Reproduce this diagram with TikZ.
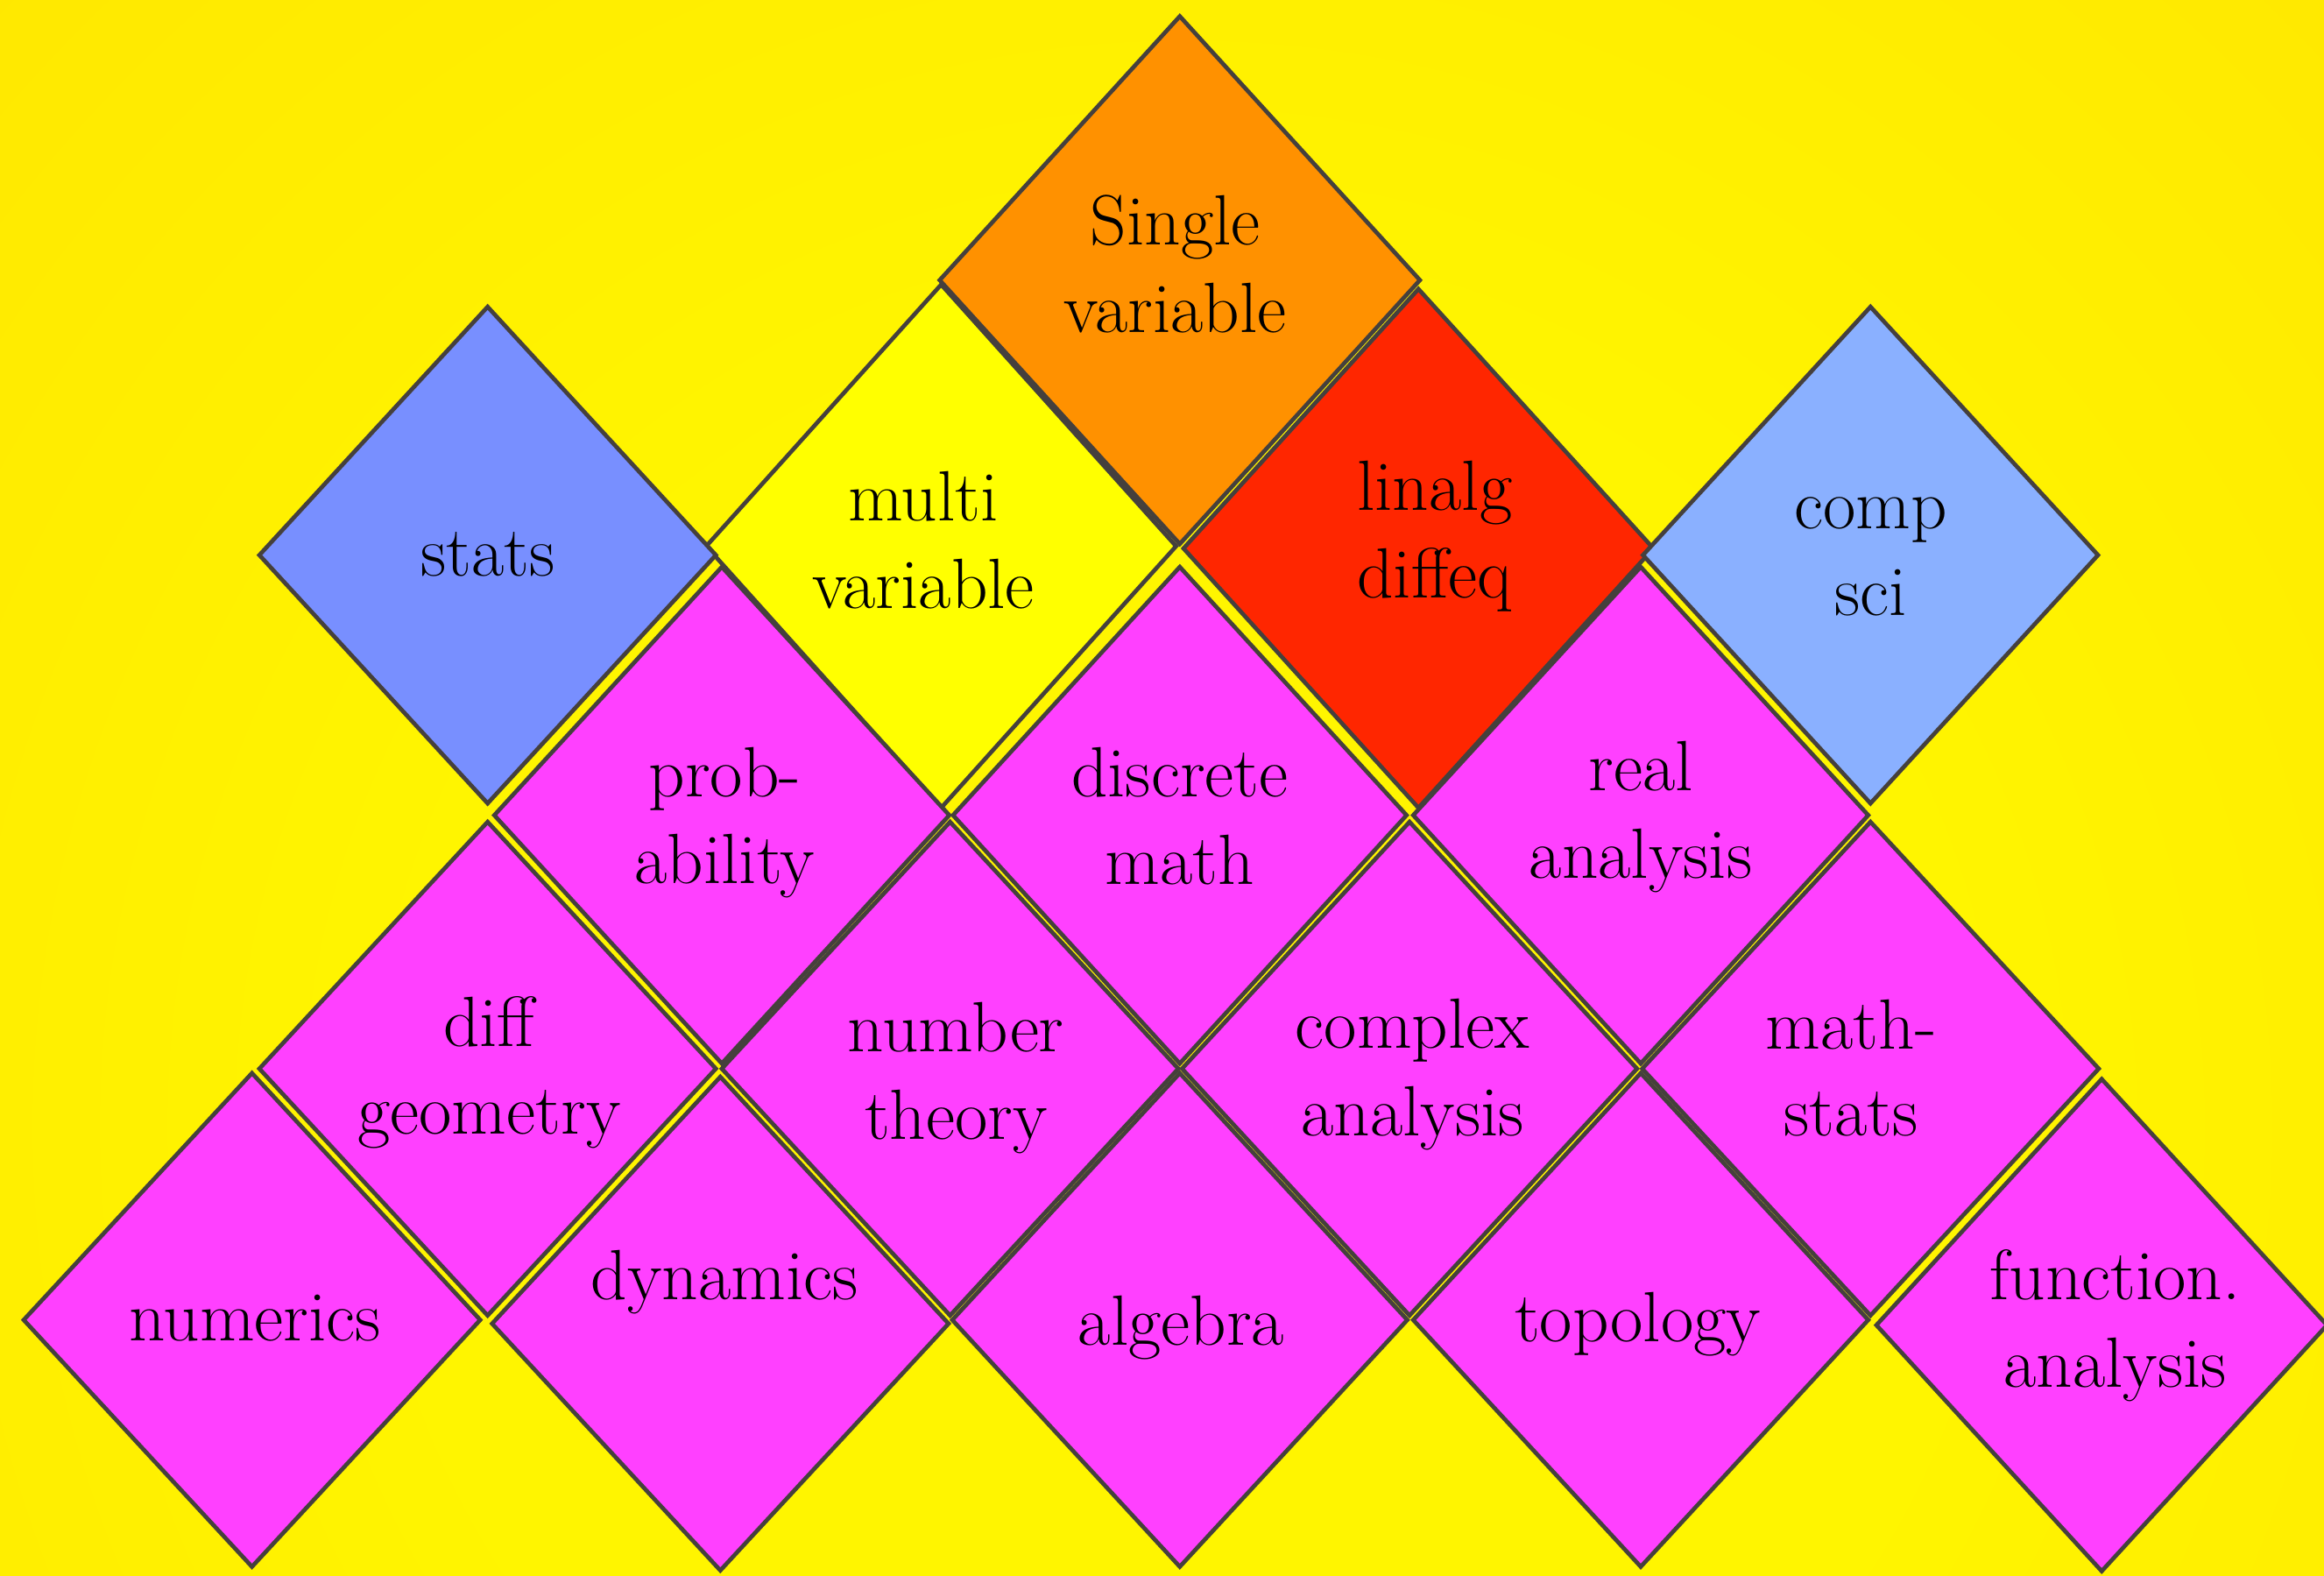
\documentclass[tikz,border=0pt]{standalone}
\usepackage{fontspec}
\definecolor{bgin}{RGB}{255,245,0}
\definecolor{bgout}{RGB}{255,216,0}
\definecolor{edge}{RGB}{69,64,61}
\definecolor{orangeD}{RGB}{255,145,0}
\definecolor{yellowD}{RGB}{255,255,0}
\definecolor{redD}{RGB}{255,38,0}
\definecolor{magD}{RGB}{255,64,255}
\definecolor{statsD}{RGB}{120,143,255}
\definecolor{compD}{RGB}{138,176,255}
\pgfdeclareradialshading{bgshade}{\pgfpoint{0bp}{0bp}}{color(0bp)=(bgin); color(12bp)=(bgin); color(42bp)=(bgout); color(50bp)=(bgout)}
\newcommand\diam[5]{\path[dia, fill=#5] (#1-#3,#2) -- (#1,#2-#4) -- (#1+#3,#2) -- (#1,#2+#4) -- cycle;}
\begin{document}
\begin{tikzpicture}[x=0.5pt,y=-0.5pt,
  dia/.style={draw=edge, line width=1.4pt, line join=miter},
  lbl/.style={font=\fontsize{24}{29.5}\selectfont, align=center, inner sep=0pt, text=black, yshift=-2.5pt}]
\useasboundingbox (0,0) rectangle (1568,1063);
\clip (0,0) rectangle (1568,1063);
\shade[shading=bgshade] (800-1100,760-1100) rectangle (800+1100,760+1100);
% top layer
\diam{635}{368.5}{158.5}{176.5}{yellowD}
\diam{957}{370}{158.5}{175}{redD}
\diam{796}{189}{162}{178}{orangeD}
\diam{329}{374.5}{154}{167.5}{statsD}
\diam{1262}{374.5}{153.5}{167.5}{compD}
% second row
\diam{487}{550}{153.5}{167.5}{magD}
\diam{796}{550}{153}{167.5}{magD}
\diam{1107}{550}{153.5}{167.5}{magD}
% third row
\diam{329}{721}{154}{166.5}{magD}
\diam{641}{721}{154}{166.5}{magD}
\diam{951}{721}{153.5}{166.5}{magD}
\diam{1262}{721}{154}{166.5}{magD}
% bottom row
\diam{170}{890.5}{154}{166.5}{magD}
\diam{486}{893}{154}{166.5}{magD}
\diam{796}{890.5}{153.5}{166.5}{magD}
\diam{1107}{890.5}{153.5}{166.5}{magD}
\diam{1418}{894}{152}{166}{magD}
% labels
\node[lbl] (single) at (793,173) {Single\\variable};
\node[lbl] (stats) at (329,369) {stats};
\node[lbl] (multi) at (623,359.5) {multi\\variable};
\node[lbl] (linalg) at (968,357) {linalg\\diffeq};
\node[lbl] (comp) at (1262,370.5) {comp\\sci};
\node[lbl] (prob) at (489,550) {prob-\\ability};
\node[lbl] (discrete) at (796,545.5) {discrete\\math};
\node[lbl] (real) at (1107,546) {real\\analysis};
\node[lbl] (diffgeo) at (330,718.5) {diff\\geometry};
\node[lbl] (number) at (645,722.5) {number\\theory};
\node[lbl] (complex) at (953,720) {complex\\analysis};
\node[lbl] (mathstats) at (1249,715.5) {math-\\stats};
\node[lbl] (numerics) at (172,884) {numerics};
\node[lbl] (dynamics) at (489,860) {dynamics};
\node[lbl] (algebra) at (797,890.5) {algebra};
\node[lbl] (topology) at (1105,888.5) {topology};
\node[lbl] (function) at (1427,889.5) {function.\\analysis};
\end{tikzpicture}
\end{document}
